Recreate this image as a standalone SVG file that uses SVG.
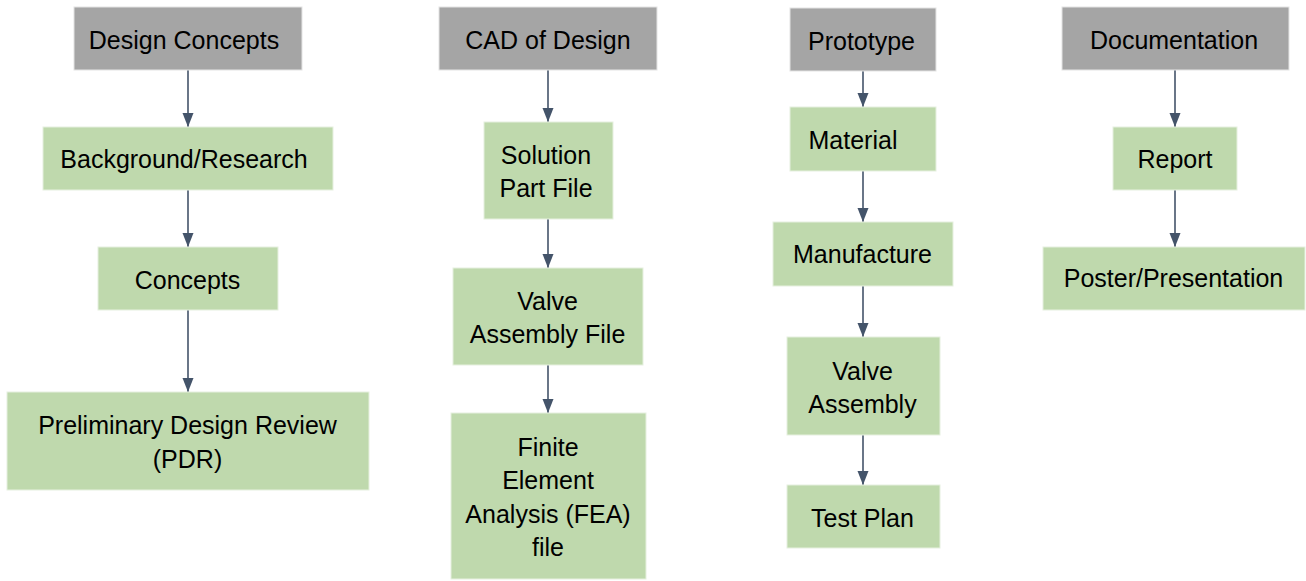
<svg xmlns="http://www.w3.org/2000/svg" width="1306" height="581" viewBox="0 0 1306 581">
  <style>
    .head { fill: #A5A5A5; stroke: #E4E4E4; stroke-width: 1; }
    .item { fill: #BFD9AD; stroke: #E6F0DF; stroke-width: 1; }
    text { font-family: "Liberation Sans", Arial, sans-serif; font-size: 25px; fill: #000; text-anchor: middle; }
    .link { stroke: #44546A; stroke-width: 1.6; fill: none; marker-end: url(#arrow); }
  </style>
  <defs>
    <!-- arrowhead drawn along +x so orient="auto" points it down the line -->
    <marker id="arrow" markerUnits="userSpaceOnUse" markerWidth="14" markerHeight="12" viewBox="0 0 14 12" refX="14" refY="6" orient="auto">
      <path d="M0,0.5 L14,6 L0,11.5 Z" fill="#44546A"/>
    </marker>
  </defs>
  <rect width="1306" height="581" fill="#FFFFFF"/>

  <!-- connectors -->
  <g id="connectors">
    <line class="link" x1="188" y1="70" x2="188" y2="127"/>
    <line class="link" x1="188" y1="190" x2="188" y2="247"/>
    <line class="link" x1="188" y1="310" x2="188" y2="392"/>
    <line class="link" x1="548" y1="70" x2="548" y2="122"/>
    <line class="link" x1="548" y1="219" x2="548" y2="268"/>
    <line class="link" x1="548" y1="365" x2="548" y2="413"/>
    <line class="link" x1="863" y1="71" x2="863" y2="107"/>
    <line class="link" x1="863" y1="171" x2="863" y2="222"/>
    <line class="link" x1="863" y1="286" x2="863" y2="337"/>
    <line class="link" x1="863" y1="435" x2="863" y2="485"/>
    <line class="link" x1="1175" y1="70" x2="1175" y2="127"/>
    <line class="link" x1="1175" y1="190" x2="1175" y2="247"/>
  </g>

  <!-- column 1 -->
  <g id="design-concepts">
    <rect class="head" x="74" y="7" width="228" height="63"/>
    <text x="184" y="49">Design Concepts</text>
  </g>
  <g id="background-research">
    <rect class="item" x="43" y="127" width="290" height="63"/>
    <text x="184" y="168">Background/Research</text>
  </g>
  <g id="concepts">
    <rect class="item" x="98" y="247" width="180" height="63"/>
    <text x="187.5" y="289">Concepts</text>
  </g>
  <g id="pdr">
    <rect class="item" x="7" y="392" width="362" height="98"/>
    <text x="187.5" y="434">Preliminary Design Review</text>
    <text x="187.5" y="468">(PDR)</text>
  </g>

  <!-- column 2 -->
  <g id="cad-of-design">
    <rect class="head" x="439" y="7" width="218" height="63"/>
    <text x="548" y="49">CAD of Design</text>
  </g>
  <g id="solution-part-file">
    <rect class="item" x="484" y="122" width="129" height="97"/>
    <text x="546" y="164">Solution</text>
    <text x="546" y="197">Part File</text>
  </g>
  <g id="valve-assembly-file">
    <rect class="item" x="453" y="268" width="190" height="97"/>
    <text x="547.5" y="310">Valve</text>
    <text x="547.5" y="343">Assembly File</text>
  </g>
  <g id="fea-file">
    <rect class="item" x="451" y="413" width="195" height="166"/>
    <text x="548" y="456">Finite</text>
    <text x="548" y="489">Element</text>
    <text x="548" y="523">Analysis (FEA)</text>
    <text x="548" y="556">file</text>
  </g>

  <!-- column 3 -->
  <g id="prototype">
    <rect class="head" x="790" y="8" width="146" height="63"/>
    <text x="861.5" y="50">Prototype</text>
  </g>
  <g id="material">
    <rect class="item" x="790" y="107" width="146" height="64"/>
    <text x="853" y="149">Material</text>
  </g>
  <g id="manufacture">
    <rect class="item" x="773" y="222" width="180" height="64"/>
    <text x="862.5" y="263">Manufacture</text>
  </g>
  <g id="valve-assembly">
    <rect class="item" x="787" y="337" width="153" height="98"/>
    <text x="862.5" y="380">Valve</text>
    <text x="862.5" y="413">Assembly</text>
  </g>
  <g id="test-plan">
    <rect class="item" x="787" y="485" width="153" height="63"/>
    <text x="862.5" y="527">Test Plan</text>
  </g>

  <!-- column 4 -->
  <g id="documentation">
    <rect class="head" x="1062" y="7" width="227" height="63"/>
    <text x="1174" y="49">Documentation</text>
  </g>
  <g id="report">
    <rect class="item" x="1113" y="127" width="124" height="63"/>
    <text x="1175" y="168">Report</text>
  </g>
  <g id="poster-presentation">
    <rect class="item" x="1043" y="247" width="262" height="63"/>
    <text x="1173.5" y="287">Poster/Presentation</text>
  </g>
</svg>
